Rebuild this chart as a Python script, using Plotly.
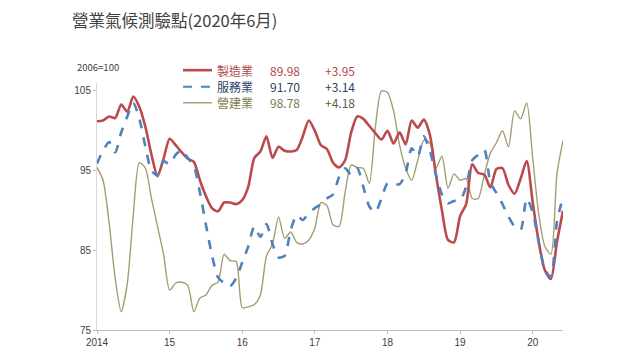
import plotly.graph_objects as go

# monthly, Jan 2014 .. Jun 2020
start_year = 2014
manufacturing = [101.2, 101.3, 101.8, 101.6, 103.3, 102.4, 104.3, 103.0, 100.5, 97.0, 94.3, 96.5,
                 99.0, 98.2, 97.3, 96.5, 96.1, 93.8, 91.8, 90.3, 89.9, 91.0, 91.0, 90.8,
                 91.3, 93.0, 96.6, 97.4, 99.3, 96.6, 98.0, 97.5, 97.4, 97.6, 99.3, 101.3,
                 100.0, 98.2, 97.7, 96.0, 95.4, 96.3, 99.8, 101.8, 101.5, 100.6, 99.7, 98.9,
                 100.0, 98.4, 99.8, 98.3, 101.3, 100.4, 101.4, 99.5, 94.5, 90.0, 86.3, 86.0,
                 89.3, 90.8, 95.8, 94.7, 94.5, 92.9, 95.2, 95.3, 93.2, 92.1, 94.0, 96.2,
                 91.0, 86.0, 82.5, 81.4, 86.03, 89.98]
services = [95.9, 97.5, 98.6, 97.3, 99.8, 101.8, 103.5, 101.5, 98.0, 95.0, 94.4, 96.2,
            95.8, 97.0, 97.6, 96.6, 95.6, 92.3, 88.2, 84.4, 81.6, 80.9, 80.5, 81.5,
            83.5, 85.5, 88.0, 86.7, 88.3, 85.8, 84.1, 84.3, 87.5, 89.4, 88.8, 89.7,
            90.3, 90.8, 91.5, 92.0, 94.2, 95.3, 94.5, 95.3, 93.0, 90.5, 89.8, 91.5,
            93.4, 93.3, 93.3, 94.7, 97.8, 96.8, 99.3, 97.5, 94.5, 92.0, 90.9, 91.2,
            91.3, 93.0, 96.3, 97.0, 97.6, 93.5, 92.2, 90.8, 89.2, 88.0, 87.6, 91.5,
            89.8, 86.0, 82.6, 81.7, 88.56, 91.70]
construction = [95.4, 93.8, 88.5, 81.5, 77.3, 80.8, 89.5, 96.0, 95.3, 91.5, 88.0, 84.5,
                80.0, 80.9, 81.0, 80.6, 77.3, 79.0, 79.4, 80.6, 81.0, 84.5, 83.7, 83.6,
                77.8, 77.9, 78.2, 79.4, 84.3, 85.8, 89.2, 86.5, 87.3, 86.0, 85.8, 86.3,
                87.8, 91.0, 90.6, 88.2, 88.0, 92.3, 95.7, 95.4, 95.3, 93.4, 100.5, 105.0,
                104.8, 102.5, 98.2, 95.3, 93.8, 96.3, 98.8, 98.5, 95.3, 96.8, 92.8, 94.6,
                93.8, 94.0, 91.5, 91.5, 94.5, 97.2, 98.5, 100.0, 98.0, 102.5, 101.5, 103.5,
                96.5, 89.5, 85.5, 84.5, 94.60, 98.78]

series_names = ["製造業", "服務業", "營建業"]
latest = ["89.98", "91.70", "98.78"]
changes = ["+3.95", "+3.14", "+4.18"]
tick_vals = [2014, 2015, 2016, 2017, 2018, 2019, 2020]
tick_text = ["2014", "15", "16", "17", "18", "19", "20"]
y_ticks = [75, 85, 95, 105]

x = [start_year + i / 12 for i in range(len(manufacturing))]

colors = ["#BB4A4D", "#4F81BD", "#A29E72"]
text_colors = ["#B0474A", "#2B3F63", "#7D7A4E"]
widths = [2.6, 2.6, 1.4]
dashes = ["solid", "dash", "solid"]
data = [manufacturing, services, construction]

fig = go.Figure()
for idx in [2, 0, 1]:
    fig.add_trace(go.Scatter(
        x=x, y=data[idx], mode="lines", name=series_names[idx],
        line=dict(color=colors[idx], width=widths[idx], dash=dashes[idx],
                  shape="spline", smoothing=0.7),
        showlegend=False))

# page has an 8px body margin; compensate so plot sits where the reference has it
OFF = 8
W, H = 640 - OFF, 360 - OFF
L, R, T, B = 97, 563, 83, 333   # target pixel positions of plot area on the screen


def px(xp):
    return (xp - L) / (R - L)


def py(yp):
    return (B - yp) / (B - T)


font_cjk = "Noto Sans CJK TC, Noto Sans, sans-serif"
annotations = [
    dict(text="營業氣候測驗點(2020年6月)", x=px(70), y=py(19), xref="paper", yref="paper",
         xanchor="left", yanchor="middle", showarrow=False,
         font=dict(size=16.5, color="#404040", family=font_cjk)),
    dict(text="2006=100", x=px(75), y=py(67), xref="paper", yref="paper",
         xanchor="left", yanchor="middle", showarrow=False,
         font=dict(size=9.5, color="#404040", family=font_cjk)),
]
shapes = []
rows_y = [70, 86.7, 103]
for i in range(3):
    yy = py(rows_y[i])
    shapes.append(dict(type="line", xref="paper", yref="paper",
                       x0=px(183), x1=px(212), y0=yy, y1=yy,
                       line=dict(color=colors[i], width=widths[i] if i != 1 else 2,
                                 dash="dash" if i == 1 else "solid")))
    annotations.append(dict(text=series_names[i], x=px(215), y=yy, xref="paper", yref="paper",
                            xanchor="left", yanchor="middle", showarrow=False,
                            font=dict(size=12, color=text_colors[i], family=font_cjk)))
    annotations.append(dict(text=latest[i], x=px(268), y=yy, xref="paper", yref="paper",
                            xanchor="left", yanchor="middle", showarrow=False,
                            font=dict(size=12, color=text_colors[i], family=font_cjk)))
    annotations.append(dict(text=changes[i], x=px(323), y=yy, xref="paper", yref="paper",
                            xanchor="left", yanchor="middle", showarrow=False,
                            font=dict(size=12, color=text_colors[i] if i < 2 else "#5E5E48",
                                      family=font_cjk)))

fig.update_layout(
    width=W, height=H,
    margin=dict(l=L - OFF, r=640 - R, t=T - OFF, b=360 - B, pad=0),
    paper_bgcolor="white", plot_bgcolor="white",
    annotations=annotations, shapes=shapes,
    xaxis=dict(range=[2014, 2020 + 5 / 12], tickvals=tick_vals, ticktext=tick_text,
               showgrid=False, zeroline=False, showline=True, linecolor="#BFBFBF", linewidth=1,
               ticks="outside", ticklen=3, tickcolor="#BFBFBF",
               tickfont=dict(size=10, color="#404040", family="Liberation Sans, Arial")),
    yaxis=dict(range=[75, 106], tickvals=y_ticks,
               showgrid=False, zeroline=False, showline=True, linecolor="#D9D9D9", linewidth=1,
               ticks="outside", ticklen=3, tickcolor="#BFBFBF",
               tickfont=dict(size=10, color="#404040", family="Liberation Sans, Arial")),
)

fig.write_html("out.html")
